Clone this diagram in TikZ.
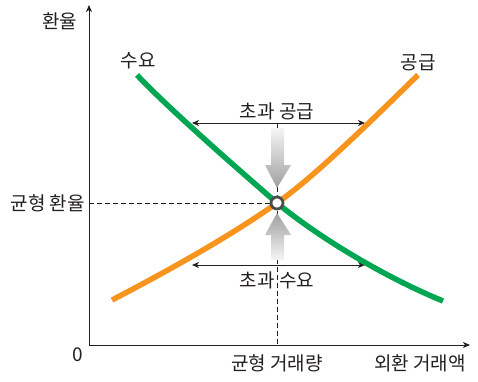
\documentclass[tikz,border=0pt]{standalone}
\usepackage{fontspec}
\setmainfont{Noto Sans CJK KR}
\usepackage{tikz}
\usetikzlibrary{arrows.meta}
\definecolor{demandgreen}{RGB}{0,166,81}
\definecolor{supplyorange}{RGB}{247,148,29}
\definecolor{inkgray}{RGB}{35,31,32}

\begin{document}
\begin{tikzpicture}[line cap=butt,line join=round,x=1pt,y=1pt,
	lbl/.style={font=\fontsize{19}{19}\selectfont, text=inkgray, inner sep=0pt},
	tip/.style={-{Stealth[length=7pt,width=6pt,inset=2pt]}},
	twotip/.style={{Stealth[length=7pt,width=6pt,inset=2pt]}-{Stealth[length=7pt,width=6pt,inset=2pt]}},
	guide/.style={inkgray, line width=0.6pt, dash pattern=on 5pt off 3pt}]
		\useasboundingbox (-89,-36) rectangle (389,345);

		% Achsen
		\coordinate (O) at (0,0);
		\coordinate (ytop) at (0,340);
		\coordinate (xend) at (381,0);
		\draw[inkgray, line width=0.8pt, tip] (O) -- (ytop);
		\draw[inkgray, line width=0.8pt, tip] (O) -- (xend);

		% Gleichgewicht
		\coordinate (E) at (188,142);
		\coordinate (Ey) at (0,142);
		\coordinate (Ex) at (188,0);
		\coordinate (Etop) at (188,222);
		\draw[guide] (Ey) -- (E);
		\draw[guide] (Etop) -- (Ex);

		% Ueberschuss-Pfeile
		\coordinate (ueL) at (103,222);
		\coordinate (ueR) at (276,222);
		\coordinate (unL) at (103,80);
		\coordinate (unR) at (276,80);
		\draw[inkgray, line width=0.8pt, twotip] (ueL) -- (ueR);
		\draw[inkgray, line width=0.8pt, twotip] (unL) -- (unR);

		% Nachfrage und Angebot
		\draw[demandgreen, line width=5.5pt] (48,270) .. controls (80,236) and (150,175) .. (E)
			.. controls (233,105) and (300,66) .. (354,44);
		\draw[supplyorange, line width=5.5pt] (23,45) .. controls (75,72) and (140,108) .. (E)
			.. controls (228,170) and (290,232) .. (329,270);

		% graue Pfeile
		\shade[top color=gray!8, bottom color=gray!75]
			(182,217) -- (195,217) -- (195,180) -- (202,180) -- (188,157)
			-- (176,180) -- (182,180) -- cycle;
		\shade[top color=gray!75, bottom color=gray!8]
			(182,85) -- (195,85) -- (195,110) -- (202,110) -- (188,132)
			-- (176,110) -- (182,110) -- cycle;
		\draw[gray!60!black, line width=2.8pt, fill=white] (E) circle (6);

		% Beschriftung
		\node[lbl] (yl) at (-29,324) {환율};
		\node[lbl] (zero) at (-11,-10) {0};
		\node[lbl, anchor=east] (eqrate) at (-4,142) {균형 환율};
		\node[lbl] (eqqty) at (188,-18) {균형 거래량};
		\node[lbl] (xl) at (331,-18) {외환 거래액};
		\node[lbl] (dl) at (49,284) {수요};
		\node[lbl] (sl) at (329,282) {공급};
		\node[lbl] (exs) at (188,234) {초과 공급};
		\node[lbl] (exd) at (188,65) {초과 수요};
	\end{tikzpicture}
\end{document}
